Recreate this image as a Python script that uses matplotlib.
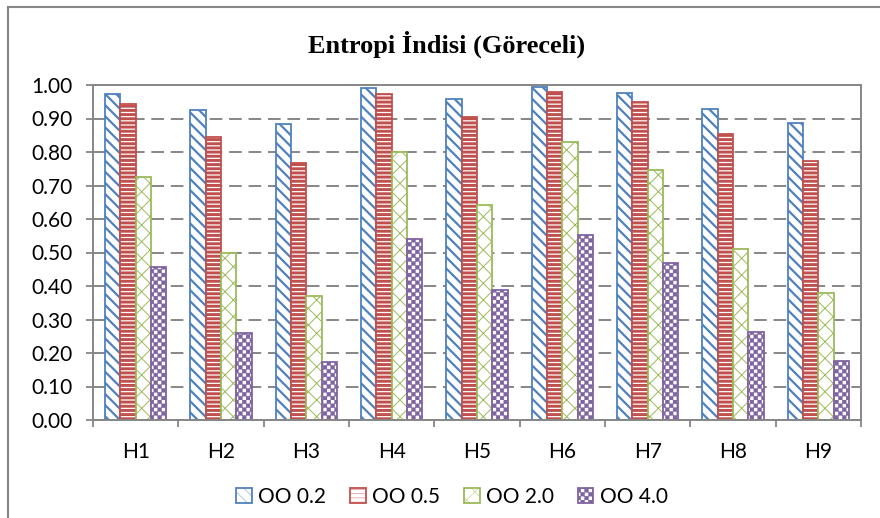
import numpy as np
import matplotlib
matplotlib.use('Agg')
import matplotlib.pyplot as plt
import matplotlib.hatch as mhatch
from matplotlib.path import Path
from matplotlib.patches import Rectangle

# values
categories = ['H1', 'H2', 'H3', 'H4', 'H5', 'H6', 'H7', 'H8', 'H9']
oo_02 = [0.972, 0.925, 0.884, 0.990, 0.958, 0.995, 0.977, 0.928, 0.887]
oo_05 = [0.942, 0.846, 0.766, 0.972, 0.903, 0.980, 0.950, 0.853, 0.772]
oo_20 = [0.726, 0.500, 0.370, 0.799, 0.641, 0.829, 0.746, 0.510, 0.380]
oo_40 = [0.458, 0.259, 0.173, 0.539, 0.388, 0.553, 0.469, 0.262, 0.176]
series_labels = ['OO 0.2', 'OO 0.5', 'OO 2.0', 'OO 4.0']
y_ticks = [0.0, 0.1, 0.2, 0.3, 0.4, 0.5, 0.6, 0.7, 0.8, 0.9, 1.0]


# checkerboard hatch (Excel "small checker board"), hooked onto the 'O' char
class CheckerHatch(mhatch.HatchPatternBase):
    def __init__(self, hatch, density):
        self.cells = hatch.count('O') * 26
        self.num_vertices = (self.cells * self.cells // 2) * 5

    def set_vertices_and_codes(self, vertices, codes):
        s = 1.0 / self.cells
        sq = np.array([[0, 0], [s, 0], [s, s], [0, s], [0, 0]])
        parts = []
        for i in range(self.cells):
            for j in range(self.cells):
                if (i + j) % 2 == 0:
                    parts.append(sq + [i * s, j * s])
        vertices[:] = np.concatenate(parts)
        codes[:] = np.tile([Path.MOVETO, Path.LINETO, Path.LINETO,
                            Path.LINETO, Path.CLOSEPOLY], len(parts))


mhatch._hatch_types = [t for t in mhatch._hatch_types
                       if t is not mhatch.LargeCircles] + [CheckerHatch]

font = 'Lato'
grey = '#868686'

fig = plt.figure(figsize=(8.8, 5.18), dpi=100)
ax = fig.add_axes([93 / 880, 98 / 518, 768 / 880, 335 / 518])

x = np.arange(len(categories))
width = 0.18
styles = [
    (oo_02, '#4F81BD', '\\\\\\', 1.6),
    (oo_05, '#C0504D', '----', 2.1),
    (oo_20, '#9BBB59', 'xx', 0.7),
    (oo_40, '#8064A2', 'O', 0.3),
]

handles = []
for i, (vals, color, hatch, hlw) in enumerate(styles):
    plt.rcParams['hatch.linewidth'] = hlw
    bars = ax.bar(x + (i - 1.5) * width, vals, width, facecolor='white',
                  edgecolor=color, hatch=hatch, linewidth=1.3,
                  label=series_labels[i], zorder=2)
    for b in bars:
        if hasattr(b, 'set_hatch_linewidth'):
            b.set_hatch_linewidth(hlw)
    handles.append(bars)

ax.set_xlim(-0.5, len(categories) - 0.5)
ax.set_ylim(0, 1.0)

# y axis
ax.set_yticks(y_ticks)
ax.set_yticklabels(['%.2f' % v for v in y_ticks], fontfamily=font, fontsize=15)
ax.yaxis.grid(True, color=grey, linewidth=1.4, linestyle=(0, (6.5, 3.5)))
ax.set_axisbelow(True)

# x axis: ticks at category borders, labels at centres
ax.set_xticks(np.arange(-0.5, len(categories), 1.0))
ax.set_xticklabels([])
ax.set_xticks(x, minor=True)
ax.set_xticklabels(categories, minor=True, fontfamily=font, fontsize=15)
ax.tick_params(axis='x', which='minor', length=0, pad=16)
ax.tick_params(axis='both', which='major', direction='out', length=5,
               width=1.3, color=grey, pad=10)

for sp in ax.spines.values():
    sp.set_color(grey)
    sp.set_linewidth(1.4)

fig.suptitle('Entropi İndisi (Göreceli)', x=447 / 880, y=1 - 44 / 518, va='center',
             fontfamily='Liberation Serif', fontweight='bold', fontsize=19)

leg = fig.legend(handles=handles, labels=series_labels, loc='center',
                 bbox_to_anchor=(452 / 880, 1 - 497 / 518), ncol=4, frameon=False,
                 prop={'family': font, 'size': 15}, handlelength=0.75,
                 handleheight=0.75, handletextpad=0.3, columnspacing=1.15)

# outer chart border (only left and top visible in the crop)
fig.patches.append(Rectangle((8 / 880, -0.1), 1.1, 1.1 - 7 / 518,
                             transform=fig.transFigure, fill=False,
                             edgecolor=grey, linewidth=1.5))

fig.savefig('out.png', dpi=100)
